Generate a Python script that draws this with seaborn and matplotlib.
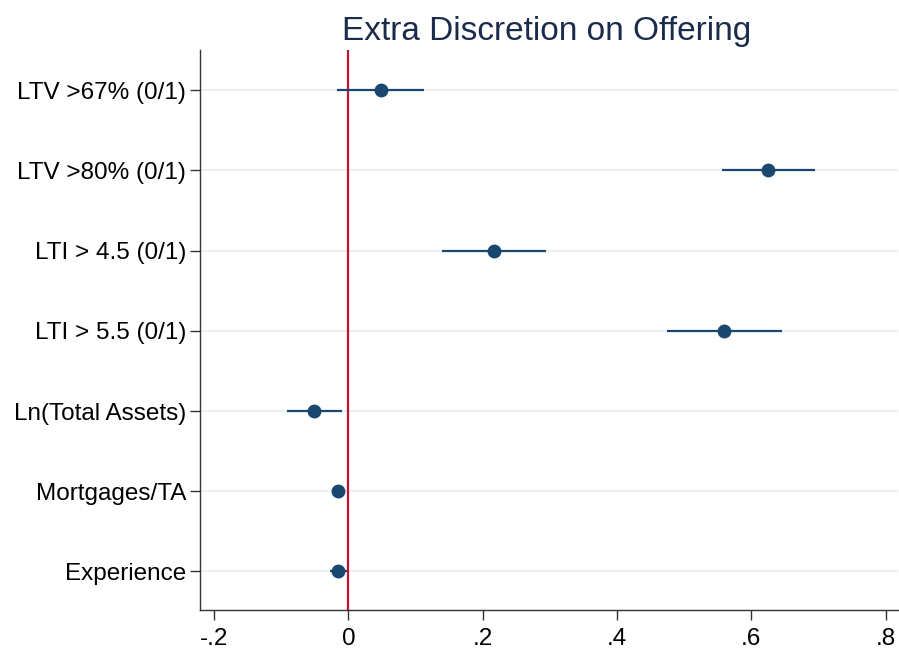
import matplotlib
matplotlib.use("Agg")
import matplotlib.pyplot as plt
import seaborn as sns
import pandas as pd

variables = ["LTV >67% (0/1)", "LTV >80% (0/1)", "LTI > 4.5 (0/1)", "LTI > 5.5 (0/1)",
             "Ln(Total Assets)", "Mortgages/TA", "Experience"]
coef = [0.048, 0.625, 0.217, 0.559, -0.051, -0.016, -0.016]
ci_low = [-0.017, 0.556, 0.139, 0.475, -0.091, -0.022, -0.028]
ci_high = [0.113, 0.695, 0.294, 0.646, -0.010, -0.010, -0.002]
xticks = [-0.2, 0, 0.2, 0.4, 0.6, 0.8]
xticklabels = ["-.2", "0", ".2", ".4", ".6", ".8"]

df = pd.DataFrame({"var": variables, "coef": coef, "lo": ci_low, "hi": ci_high})
df["pos"] = range(len(df))

sns.set_theme(style="white")
plt.rcParams["font.family"] = ["Liberation Sans", "DejaVu Sans"]

navy = "#1a476f"
fig = plt.figure(figsize=(8.99, 6.58), dpi=100)
ax = fig.add_axes([0.2225, 0.073, 0.776, 0.851])

for p in df["pos"]:
    ax.axhline(p, color="#eaf0f4", lw=1.5, zorder=0)
ax.axvline(0, color="#c8102e", lw=1.6, zorder=1)
ax.hlines(df["pos"], df["lo"], df["hi"], color=navy, lw=1.6, zorder=2)
sns.scatterplot(data=df, x="coef", y="pos", ax=ax, color=navy, s=100,
                edgecolor=navy, linewidth=0, zorder=3)

ax.set_ylim(6.48, -0.5)
ax.set_xlim(-0.221, 0.818)
ax.set_yticks(df["pos"])
ax.set_yticklabels(variables, fontsize=17.5)
ax.set_xticks(xticks)
ax.set_xticklabels(xticklabels, fontsize=17.5)
ax.set_xlabel("")
ax.set_ylabel("")
for s in ["top", "right"]:
    ax.spines[s].set_visible(False)
for s in ["left", "bottom"]:
    ax.spines[s].set_color("#333333")
    ax.spines[s].set_linewidth(1.0)
ax.tick_params(axis="both", which="major", direction="out", length=7, width=1,
               color="#333333", left=True, bottom=True, pad=6, labelcolor="black")
ax.tick_params(axis="y", pad=3)
ax.set_title("Extra Discretion on Offering", fontsize=24, color="#1a2b4c", pad=7, x=0.497)

fig.savefig("out.png", dpi=100)
